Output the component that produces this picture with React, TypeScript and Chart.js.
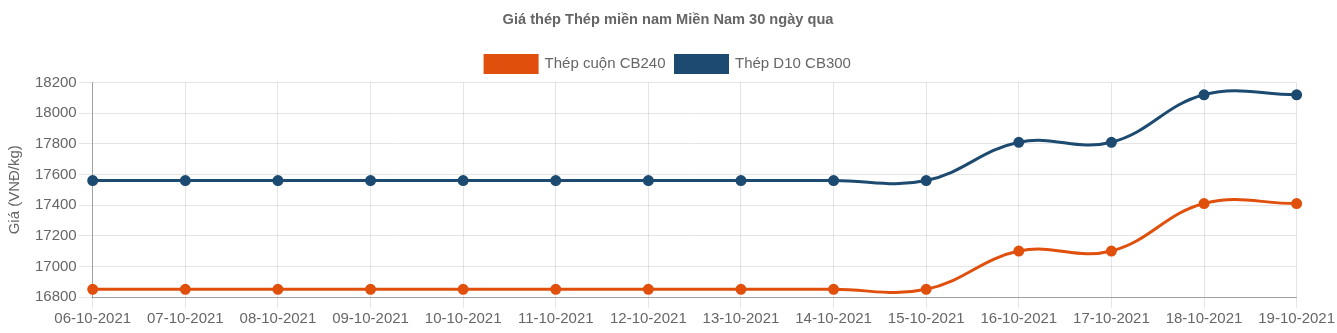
import React, { useEffect, useRef } from "react";
import { Chart, registerables } from "chart.js";

Chart.register(...registerables);

const dates = [
  "06-10-2021", "07-10-2021", "08-10-2021", "09-10-2021", "10-10-2021",
  "11-10-2021", "12-10-2021", "13-10-2021", "14-10-2021", "15-10-2021",
  "16-10-2021", "17-10-2021", "18-10-2021", "19-10-2021",
];
const thepCuon = [16850, 16850, 16850, 16850, 16850, 16850, 16850, 16850, 16850, 16850, 17100, 17100, 17410, 17410];
const thepD10 = [17560, 17560, 17560, 17560, 17560, 17560, 17560, 17560, 17560, 17560, 17810, 17810, 18120, 18120];
const yMin = 16800;
const yMax = 18200;
const yStep = 200;

const ORANGE = "rgb(224,80,12)";
const BLUE = "rgb(28,74,112)";
const FONT = "Arial, 'Liberation Sans', sans-serif";

export default function App() {
  const ref = useRef<HTMLCanvasElement>(null);
  useEffect(() => {
    document.body.style.margin = "0";
    const ctx = ref.current!;
    const chart = new Chart(ctx, {
      type: "line",
      data: {
        labels: dates,
        datasets: [
          {
            label: "Thép cuộn CB240",
            data: thepCuon,
            borderColor: ORANGE,
            backgroundColor: ORANGE,
            borderWidth: 3,
            pointRadius: 4,
            pointBackgroundColor: ORANGE,
            pointBorderColor: ORANGE,
            tension: 0.4,
            fill: false,
          },
          {
            label: "Thép D10 CB300",
            data: thepD10,
            borderColor: BLUE,
            backgroundColor: BLUE,
            borderWidth: 3,
            pointRadius: 4,
            pointBackgroundColor: BLUE,
            pointBorderColor: BLUE,
            tension: 0.4,
            fill: false,
          },
        ],
      },
      options: {
        animation: false,
        responsive: false,
        maintainAspectRatio: false,
        layout: { padding: { left: 6, right: 7, top: 0, bottom: 3 } },
        plugins: {
          title: {
            display: true,
            text: "Giá thép Thép miền nam Miền Nam 30 ngày qua",
            color: "#666",
            font: { family: FONT, size: 14.6, weight: "bold" },
            padding: { top: 11, bottom: 17 },
          },
          legend: {
            display: true,
            labels: {
              color: "#666",
              font: { family: FONT, size: 15 },
              boxWidth: 52,
              boxHeight: 17,
              padding: 10,
            },
          },
          tooltip: { enabled: false },
        },
        scales: {
          x: {
            grid: { color: "rgba(0,0,0,0.1)", tickLength: 11, lineWidth: 1 },
            border: { color: "rgba(0,0,0,0.3)" },
            ticks: {
              color: "#666",
              font: { family: FONT, size: 15 },
              maxRotation: 0,
              autoSkip: false,
              padding: 2,
            },
          },
          y: {
            min: yMin,
            max: yMax,
            grid: { color: "rgba(0,0,0,0.1)", tickLength: 14 },
            border: { color: "rgba(0,0,0,0.3)" },
            ticks: {
              stepSize: yStep,
              color: "#666",
              font: { family: FONT, size: 15 },
              padding: 2,
              callback: (v: any) => String(v),
            },
            title: {
              display: true,
              text: "Giá (VNĐ/kg)",
              color: "#666",
              font: { family: FONT, size: 15 },
              padding: { top: 0, bottom: 9 },
            },
          },
        },
      },
    });
    return () => chart.destroy();
  }, []);
  return <canvas ref={ref} width={1337} height={333} style={{ display: "block" }} />;
}
